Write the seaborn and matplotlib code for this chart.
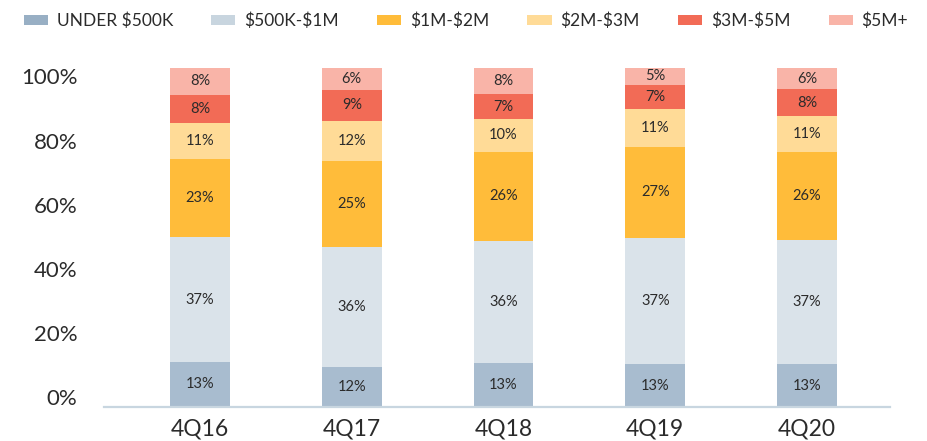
import numpy as np
import matplotlib
matplotlib.use("agg")
import matplotlib.pyplot as plt
from matplotlib.patches import Patch
import seaborn as sns

quarters = ["4Q16", "4Q17", "4Q18", "4Q19", "4Q20"]
segments = ["UNDER $500K", "$500K-$1M", "$1M-$2M", "$2M-$3M", "$3M-$5M", "$5M+"]

# share of sales per price band, bottom to top (percent)
under_500k = [13.3, 11.7, 12.9, 12.6, 12.6]
k500_1m = [36.8, 35.6, 36.2, 37.4, 36.6]
m1_2m = [23.0, 25.3, 26.2, 26.6, 26.1]
m2_3m = [10.6, 11.8, 9.6, 11.3, 10.6]
m3_5m = [8.4, 9.2, 7.4, 7.1, 7.8]
m5_plus = [7.9, 6.4, 7.6, 5.0, 6.3]

colors = ["#a8bccf", "#dae3ea", "#ffbc3a", "#ffdb97", "#f26b56", "#f9b4a8"]
legend_colors = ["#98afc4", "#c8d5df", "#ffbc3a", "#ffdb97", "#f26b56", "#f9b4a8"]
TEXT = "#2b2b2b"

sns.set_style("white")
plt.rcParams["font.family"] = ["Lato", "DejaVu Sans"]
plt.rcParams["text.parse_math"] = False

fig = plt.figure(figsize=(9.27, 4.41), dpi=100)
ax = fig.add_axes([104 / 927, 1 - 407 / 441, (890 - 104) / 927, (407 - 68) / 441])

layers = [under_500k, k500_1m, m1_2m, m2_3m, m3_5m, m5_plus]
bottom = np.zeros(len(quarters))
for vals, col in zip(layers, colors):
    vals = np.array(vals)
    sns.barplot(x=quarters, y=vals, bottom=bottom, color=col, width=0.395,
                saturation=1, linewidth=0, ax=ax)
    for i, v in enumerate(vals):
        ax.text(i, bottom[i] + v / 2, f"{round(v)}%", ha="center", va="center",
                fontsize=10.5, color=TEXT)
    bottom = bottom + vals

ax.set_xlim(-0.633, 4.547)
ax.set_ylim(0, 100)
# labels sit slightly inside the bar range, like the original
ax.set_yticks(np.linspace(3, 97.5, 6))
ax.set_yticklabels(["0%", "20%", "40%", "60%", "80%", "100%"])
ax.tick_params(axis="y", length=0, pad=19, labelsize=16, labelcolor=TEXT)
ax.tick_params(axis="x", length=0, pad=8, labelsize=16.5, labelcolor=TEXT)
ax.set_xlabel("")
ax.set_ylabel("")

for s in ["top", "right", "left"]:
    ax.spines[s].set_visible(False)
ax.spines["bottom"].set_color("#c8d6e0")
ax.spines["bottom"].set_linewidth(1.6)

handles = [Patch(facecolor=c, edgecolor="none", label=l) for c, l in zip(legend_colors, segments)]
fig.legend(handles=handles, loc="upper left", bbox_to_anchor=(8 / 927, 1 + 3 / 441),
           ncol=6, frameon=False, fontsize=12.5, handlelength=1.4, handleheight=0.5,
           handletextpad=0.5, columnspacing=2.2, labelcolor=TEXT)

fig.savefig("out.png", dpi=100)
plt.close(fig)
